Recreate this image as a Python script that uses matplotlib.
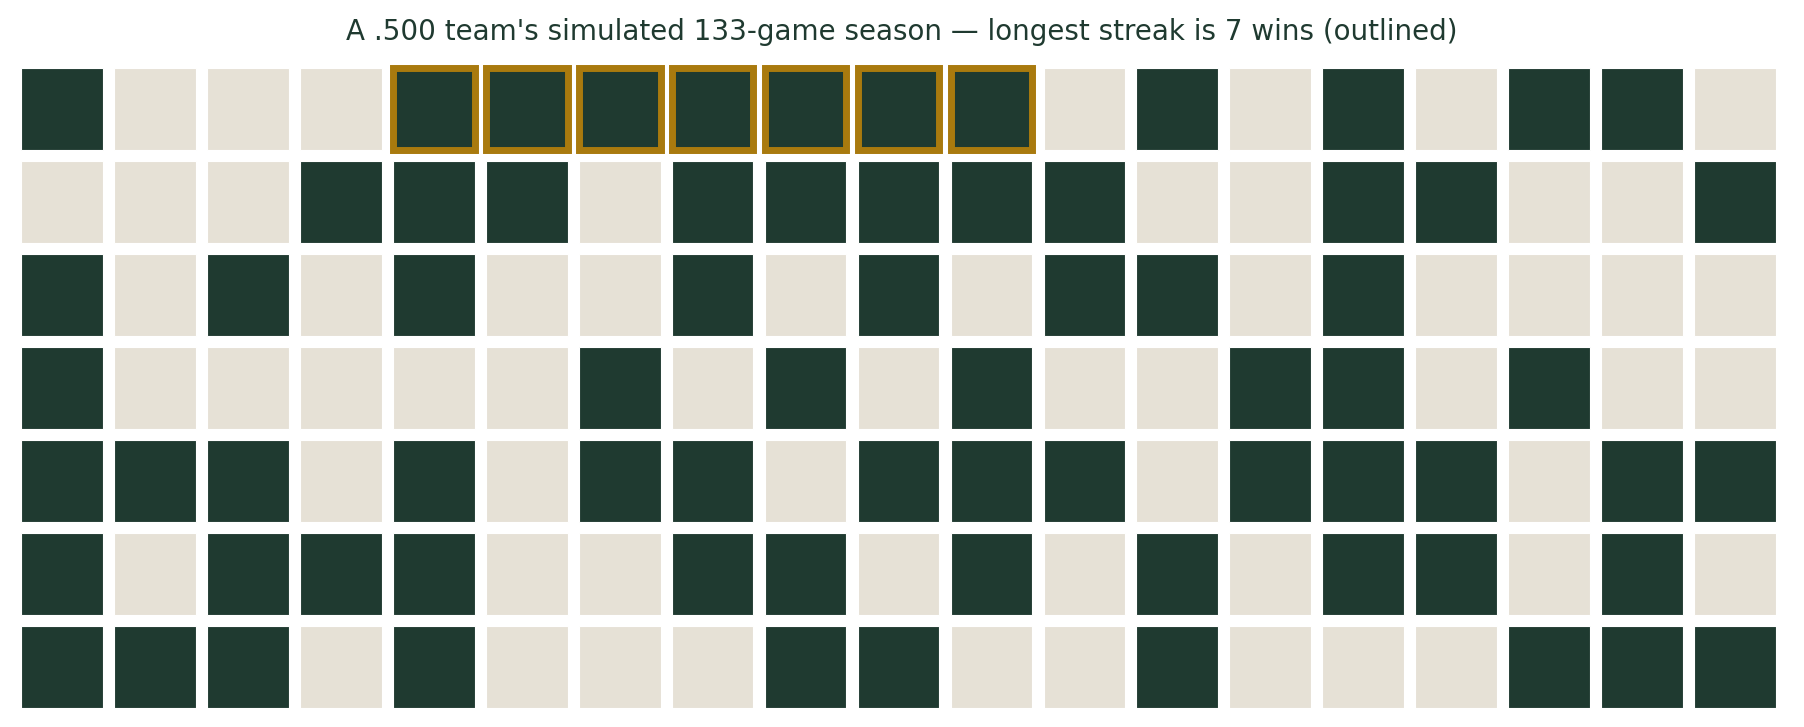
import matplotlib
matplotlib.use("Agg")
import matplotlib.pyplot as plt
from matplotlib.patches import Rectangle

# Season results, read row by row (19 games per row), W = win, L = loss
rows = [
    "WLLLWWWWWWWLWLWLWWL",
    "LLLWWWLWWWWWLLWWLLW",
    "WLWLWLLWLWLWWLWLLLL",
    "WLLLLLWLWLWLLWWLWLL",
    "WWWLWLWWLWWWLWWWLWW",
    "WLWWWLLWWLWLWLWWLWL",
    "WWWLWLLLWWLLWLLLWWW",
]
results = "".join(rows)
n_cols = len(rows[0])
n_rows = len(rows)

win_color = "#1f3a30"
loss_color = "#e6e1d6"
streak_color = "#a97a0e"
title_color = "#1f3a30"

# Find the longest win streak
best_len, best_start = 0, 0
cur_len, cur_start = 0, 0
for i, r in enumerate(results):
    if r == "W":
        if cur_len == 0:
            cur_start = i
        cur_len += 1
        if cur_len > best_len:
            best_len, best_start = cur_len, cur_start
    else:
        cur_len = 0

fig = plt.figure(figsize=(18.04, 7.27), dpi=100)
ax = fig.add_axes([21 / 1804, 19 / 727, 1755 / 1804, 640 / 727])

size = 0.88
pad = (1 - size) / 2
for i, r in enumerate(results):
    row, col = divmod(i, n_cols)
    color = win_color if r == "W" else loss_color
    ax.add_patch(Rectangle((col + pad, row + pad), size, size,
                           facecolor=color, edgecolor="white", linewidth=0.8))

for i in range(best_start, best_start + best_len):
    row, col = divmod(i, n_cols)
    ax.add_patch(Rectangle((col + pad, row + pad), size, size,
                           facecolor="none", edgecolor=streak_color,
                           linewidth=5, clip_on=False, zorder=3))

ax.set_xlim(pad, n_cols - pad)
ax.set_ylim(n_rows - pad, pad)
ax.axis("off")

fig.text(0.5, 1 - 32 / 727,
         f"A .500 team's simulated {len(results)}-game season \u2014 "
         f"longest streak is {best_len} wins (outlined)",
         ha="center", va="center", fontsize=20, color=title_color)

fig.savefig("out.png", dpi=100, facecolor="white")
